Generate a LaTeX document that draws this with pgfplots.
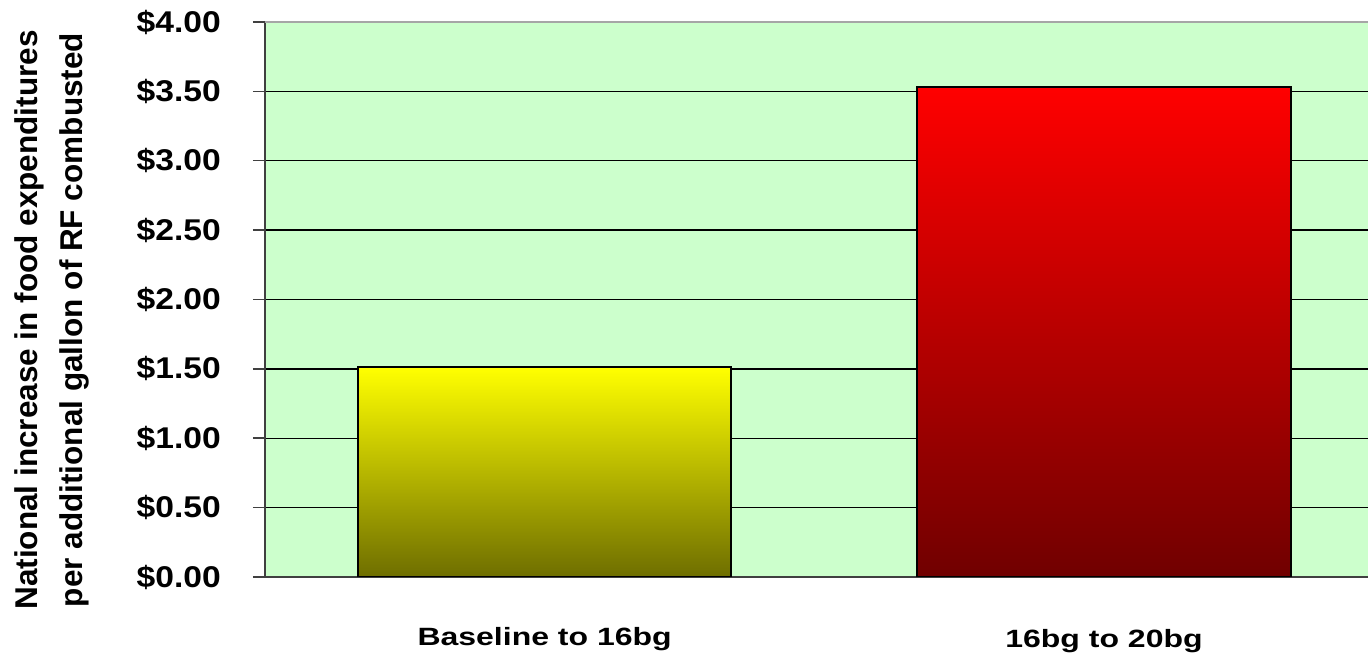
\documentclass[border=0pt]{standalone}
\usepackage{pgfplots}
\pgfplotsset{compat=1.18}
\usepackage{fontspec}
\setmainfont{Liberation Sans}
\newfontfamily\tickfont[FakeStretch=1.12]{Liberation Sans}
\newfontfamily\xlabfont[FakeStretch=1.28]{Liberation Sans}
\definecolor{bg}{HTML}{CCFFCC}
\definecolor{ytop}{HTML}{FFFF00}
\definecolor{ymid}{HTML}{CCCC00}
\definecolor{ybot}{HTML}{6E6E00}
\definecolor{rtop}{HTML}{FF0000}
\definecolor{rmid}{HTML}{C00000}
\definecolor{rbot}{HTML}{700000}
\begin{document}
\begin{tikzpicture}[x=1pt,y=1pt]
\useasboundingbox (0,0) rectangle (1368,655);
\begin{axis}[
  at={(265pt,78pt)}, anchor=south west,
  scale only axis, width=1103pt, height=555pt,
  xmin=-0.5, xmax=1.472, ymin=0, ymax=4,
  axis background/.style={fill=bg},
  axis x line*=bottom, axis y line*=left,
  axis line style={-, draw=black!75, line width=2pt},
  ytick={0,0.5,1,1.5,2,2.5,3,3.5}, extra y ticks={4},
  ymajorgrids,
  major grid style={black, line width=1.3pt},
  extra y tick style={major grid style={black!35, line width=2.5pt}},
  tick align=outside, major tick length=12pt,
  ytick style={draw=black!75, line width=1.5pt},
  xtick style={draw=none},
  /pgf/number format/assume math mode=true,
  yticklabel={\$\pgfmathprintnumber[fixed, fixed zerofill, precision=2]{\tick}},
  yticklabel style={anchor=east, inner sep=0pt, xshift=-32pt, font=\tickfont\bfseries\fontsize{30}{32}\selectfont},
  xtick={0,1}, xticklabels={Baseline to 16bg, \raisebox{-3pt}{16bg to 20bg}},
  xticklabel style={anchor=base, inner sep=0pt, yshift=-56pt, font=\xlabfont\bfseries\fontsize{25}{27}\selectfont},
  ylabel={National increase in food expenditures\\per additional gallon of RF combusted},
  ylabel style={at={(rel axis cs:-0.193,0.463)}, anchor=center, align=center, font=\bfseries\fontsize{31.5}{45}\selectfont},
]
\addplot[ybar, bar width=0.667, bar shift=0, draw=black, line width=2pt,
  top color=ytop, middle color=ymid, bottom color=ybot] coordinates {(0,1.51)};
\addplot[ybar, bar width=0.667, bar shift=0, draw=black, line width=2pt,
  top color=rtop, middle color=rmid, bottom color=rbot] coordinates {(1,3.53)};
\end{axis}
\end{tikzpicture}
\end{document}
